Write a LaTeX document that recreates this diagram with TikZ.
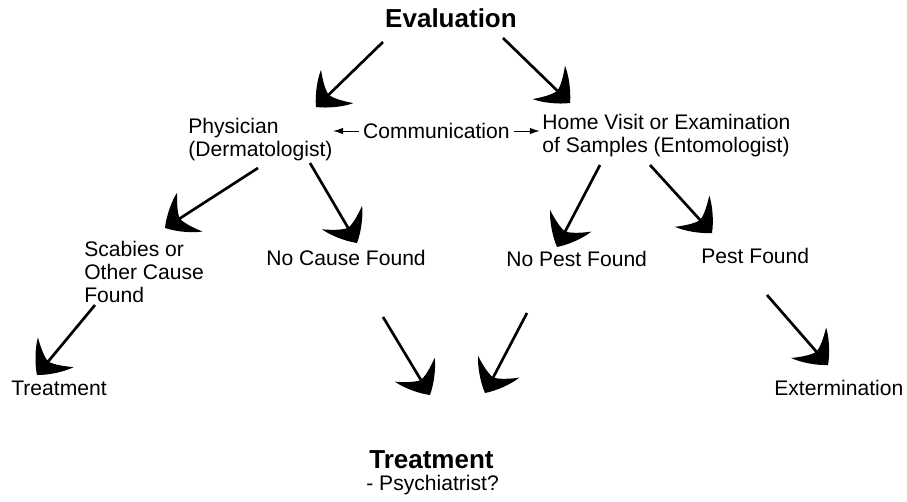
\documentclass[tikz,border=0pt]{standalone}
\usepackage{fontspec}
\setmainfont{Liberation Sans}
\usetikzlibrary{arrows.meta}

% curved barbed head of the big arrows
\pgfdeclarearrow{
  name=Swoop,
  defaults={length=21pt, width=33pt},
  setup code={
    \pgfarrowssettipend{0pt}
    \pgfarrowssetlineend{-.5\pgfarrowlength}
    \pgfarrowssetvisualbackend{-.6\pgfarrowlength}
    \pgfarrowssetbackend{-\pgfarrowlength}
    \pgfarrowssavethe\pgfarrowlength
    \pgfarrowssavethe\pgfarrowwidth
  },
  parameters={\the\pgfarrowlength,\the\pgfarrowwidth},
  drawing code={
    \pgfpathmoveto{\pgfpointorigin}
    \pgfpathcurveto{\pgfpoint{-.25\pgfarrowlength}{.2\pgfarrowwidth}}{\pgfpoint{-.7\pgfarrowlength}{.42\pgfarrowwidth}}{\pgfpoint{-\pgfarrowlength}{.5\pgfarrowwidth}}
    \pgfpathcurveto{\pgfpoint{-.75\pgfarrowlength}{.28\pgfarrowwidth}}{\pgfpoint{-.6\pgfarrowlength}{.08\pgfarrowwidth}}{\pgfpoint{-.6\pgfarrowlength}{0pt}}
    \pgfpathcurveto{\pgfpoint{-.6\pgfarrowlength}{-.08\pgfarrowwidth}}{\pgfpoint{-.75\pgfarrowlength}{-.28\pgfarrowwidth}}{\pgfpoint{-\pgfarrowlength}{-.5\pgfarrowwidth}}
    \pgfpathcurveto{\pgfpoint{-.7\pgfarrowlength}{-.42\pgfarrowwidth}}{\pgfpoint{-.25\pgfarrowlength}{-.2\pgfarrowwidth}}{\pgfpointorigin}
    \pgfpathclose
    \pgfusepathqfill
  }
}

\tikzset{
  every picture/.style={font=\fontsize{15pt}{16.4pt}\selectfont, line width=1.9pt},
  lines/.style={align=left, inner sep=0pt, anchor=north west},
  word/.style={inner sep=0pt, anchor=base west},
  title/.style={font=\fontsize{18.5pt}{20pt}\selectfont\bfseries, inner sep=0pt, anchor=base west},
  arrow/.style={-{Swoop[length=21pt, width=33pt]}},
  talk/.style={-{Latex[length=2.5mm, width=1.6mm]}, line width=0.7pt},
}

\begin{document}
\begin{tikzpicture}
  \useasboundingbox (0,0) rectangle (22.675,-12.55);
  \node[title, anchor=base] (eval) at (11.275,-0.675) {Evaluation};
  \node[lines] (phys) at (4.675,-2.925) {Physician\\(Dermatologist)};
  \node[inner sep=2pt, anchor=west] (comm) at (8.975,-3.275) {Communication};
  \node[lines] (home) at (13.525,-2.825) {Home Visit or Examination\\of Samples (Entomologist)};
  \node[lines] (scab) at (2.075,-6.0) {Scabies or\\Other Cause\\Found};
  \node[word] (nocause) at (6.625,-6.625) {No Cause Found};
  \node[word] (nopest) at (12.625,-6.65) {No Pest Found};
  \node[word] (pest) at (17.5,-6.575) {Pest Found};
  \node[word] (treatl) at (0.25,-9.875) {Treatment};
  \node[word] (exterm) at (19.325,-9.875) {Extermination};
  \node[title] (treat) at (9.2,-11.7) {Treatment};
  \node[word] (psych) at (9.125,-12.25) {- Psychiatrist?};
  \draw[talk] (comm.west) -- ++(-0.65,0);
  \draw[talk] (comm.east) -- ++(0.65,0);
  \draw[arrow] ([shift={(-1.7,-0.375)}]eval.base) -- ([shift={(3.225,0.25)}]phys.north west);
  \draw[arrow] ([shift={(1.3,-0.275)}]eval.base) -- ([shift={(0.725,0.25)}]home.north west);
  \draw[arrow] ([shift={(1.775,-1.275)}]phys.north west) -- ([shift={(2.05,0.3)}]scab.north west);
  \draw[arrow] ([shift={(3.075,-1.15)}]phys.north west) -- ([shift={(2.3,0.55)}]nocause.base west);
  \draw[arrow] ([shift={(1.475,-1.3)}]home.north west) -- ([shift={(1.3,0.475)}]nopest.base west);
  \draw[arrow] ([shift={(2.725,-1.3)}]home.north west) -- ([shift={(0.3,0.75)}]pest.base west);
  \draw[arrow] ([shift={(0.3,-1.625)}]scab.north west) -- ([shift={(0.675,0.5)}]treatl.base west);
  \draw[arrow] ([shift={(2.95,-1.3)}]nocause.base west) -- ([shift={(1.55,1.825)}]treat.base west);
  \draw[arrow] ([shift={(0.55,-1.175)}]nopest.base west) -- ([shift={(2.925,1.875)}]treat.base west);
  \draw[arrow] ([shift={(1.675,-0.8)}]pest.base west) -- ([shift={(1.375,0.75)}]exterm.base west);
\end{tikzpicture}
\end{document}
